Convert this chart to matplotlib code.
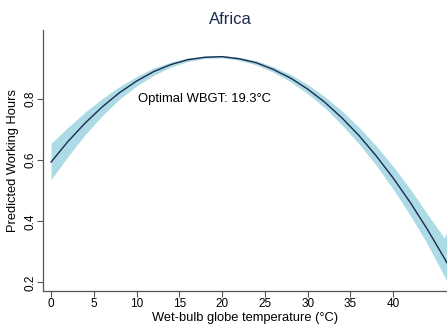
"""
Predicted working hours vs WBGT (Africa)
"""
import matplotlib
matplotlib.use("Agg")
import matplotlib.pyplot as plt

# 讀圖估計的數值
wbgt = [0, 2, 4, 6, 8, 10, 12, 14, 16, 18, 20, 22, 24,
        26, 28, 30, 32, 34, 36, 38, 40, 42, 44, 46, 46.3]
pred = [0.594, 0.662, 0.722, 0.775, 0.821, 0.859, 0.890, 0.913, 0.929, 0.937,
        0.939, 0.932, 0.919, 0.897, 0.869, 0.833, 0.790, 0.739, 0.681, 0.615,
        0.542, 0.462, 0.374, 0.279, 0.264]
ci_low = [0.536, 0.613, 0.684, 0.746, 0.800, 0.843, 0.878, 0.905, 0.923, 0.933,
          0.935, 0.927, 0.912, 0.888, 0.857, 0.818, 0.772, 0.716, 0.654, 0.584,
          0.506, 0.420, 0.326, 0.220, 0.203]
ci_high = [0.655, 0.708, 0.758, 0.802, 0.841, 0.874, 0.902, 0.921, 0.935, 0.941,
           0.943, 0.937, 0.926, 0.906, 0.881, 0.848, 0.808, 0.762, 0.708, 0.648,
           0.580, 0.506, 0.424, 0.345, 0.367]
x_ticks = [0, 5, 10, 15, 20, 25, 30, 35, 40]
y_ticks = [0.2, 0.4, 0.6, 0.8]
optimal = 19.3

plt.rcParams["font.family"] = ["Liberation Sans", "DejaVu Sans"]

fig = plt.figure(figsize=(4.47, 3.25), dpi=100)
ax = fig.add_axes([0.0962, 0.1055, 0.9038, 0.802])

ax.fill_between(wbgt, ci_low, ci_high, color="#acdbe6", linewidth=0)
ax.plot(wbgt, pred, color="#1c2b4f", linewidth=1.0)

ax.text(10.2, 0.8, f"Optimal WBGT: {optimal}°C", fontsize=9.4,
        va="center", ha="left", color="black")

ax.set_xlim(-0.94, 46.3)
ax.set_ylim(0.173, 1.026)
ax.set_xticks(x_ticks)
ax.set_yticks(y_ticks)
ax.set_yticklabels([f"{v:.1f}" for v in y_ticks], rotation=90, va="center")

for side in ["top", "right"]:
    ax.spines[side].set_visible(False)
for side in ["left", "bottom"]:
    ax.spines[side].set_color("#555555")
    ax.spines[side].set_linewidth(0.9)
ax.tick_params(colors="#555555", labelcolor="black", labelsize=8.5,
               length=4, width=0.8)
ax.tick_params(axis="x", pad=1.5)
ax.tick_params(axis="y", pad=1)

ax.set_xlabel("Wet-bulb globe temperature (°C)", fontsize=9.3, labelpad=1.5)
ax.set_ylabel("Predicted Working Hours", fontsize=9.3, labelpad=4)
fig.text(230 / 447, 1 - 19 / 325, "Africa", fontsize=12, color="#1c2b4f",
         ha="center", va="center")

fig.savefig("out.png", dpi=100)
plt.close(fig)
